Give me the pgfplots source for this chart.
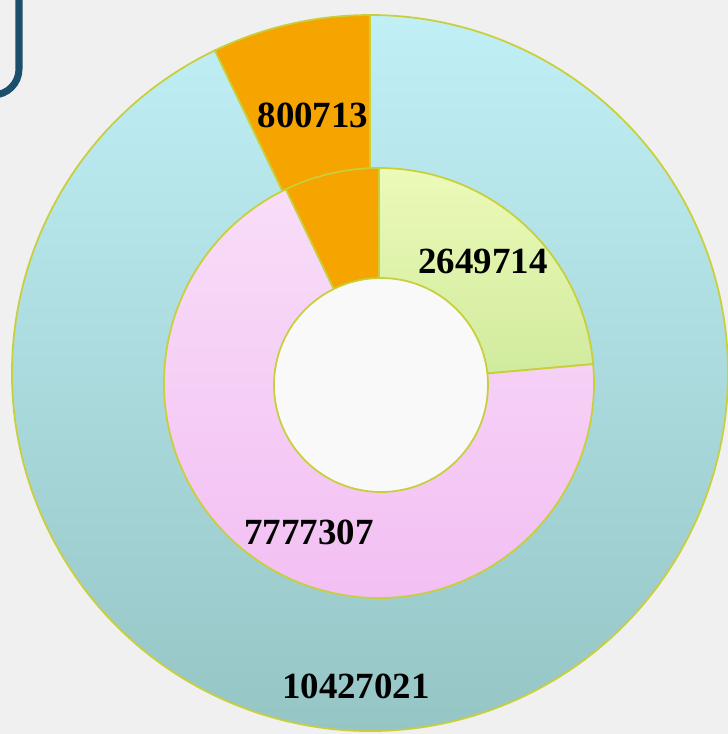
\documentclass[border=0pt]{standalone}
\usepackage{fontspec}
\setmainfont{Liberation Serif}
\usepackage{pgfplots}
\pgfplotsset{compat=1.18}

\definecolor{bgc}{HTML}{F0F0F0}
\definecolor{boxc}{HTML}{1B4F6B}
\definecolor{edgec}{HTML}{C9CF3A}
\definecolor{bluetop}{HTML}{C0F0F6}
\definecolor{bluebot}{HTML}{93C2C2}
\definecolor{orangec}{HTML}{F6A400}
\definecolor{greentop}{HTML}{ECFAB8}
\definecolor{greenbot}{HTML}{CFEA9C}
\definecolor{pinktop}{HTML}{F8DDF8}
\definecolor{pinkbot}{HTML}{F2BDF2}

% data
\def\outerA{800713}    % orange
\def\outerB{10427021}  % blue
\def\innerG{2649714}   % green
\def\innerP{7777307}   % pink
\def\innerO{800713}    % orange
\edef\total{\fpeval{\outerA+\outerB}}

% angles (clockwise from 12 o'clock for inner ring)
\edef\aOrange{\fpeval{90+360*\outerA/\total}}
\edef\aGreen{\fpeval{90-360*\innerG/\total}}
\edef\aPink{\fpeval{90-360*(\innerG+\innerP)/\total}}

\begin{document}
\begin{tikzpicture}
\begin{axis}[scale only axis, width=7.28cm, height=7.34cm,
  xmin=0, xmax=728, ymin=0, ymax=734, hide axis, clip=true]
 % background
 \fill[bgc] (axis cs:0,0) rectangle (axis cs:728,734);
 \draw[boxc, line width=0.07cm, rounded corners=0.26cm] (axis cs:-120,639) rectangle (axis cs:19,800);
 % outer ring: full wedges, inner ring drawn over
 \shade[shift={(axis cs:370,361)}, top color=bluetop, bottom color=bluebot, draw=edgec, line width=0.5pt]
   (0,0) -- (\aOrange:3.58cm) arc[start angle=\aOrange, end angle=450, radius=3.58cm] -- cycle;
 \fill[shift={(axis cs:370,361)}, orangec, draw=edgec, line width=0.5pt]
   (0,0) -- (90:3.58cm) arc[start angle=90, end angle=\aOrange, radius=3.58cm] -- cycle;
 % inner ring
 \shade[shift={(axis cs:379,351)}, top color=greentop, bottom color=greenbot, draw=edgec, line width=0.5pt]
   (0,0) -- (\aGreen:2.15cm) arc[start angle=\aGreen, end angle=90, radius=2.15cm] -- cycle;
 \shade[shift={(axis cs:379,351)}, top color=pinktop, bottom color=pinkbot, draw=edgec, line width=0.5pt]
   (0,0) -- (\aPink:2.15cm) arc[start angle=\aPink, end angle=\aGreen, radius=2.15cm] -- cycle;
 \fill[shift={(axis cs:379,351)}, orangec, draw=edgec, line width=0.5pt]
   (0,0) -- (-270:2.15cm) arc[start angle=-270, end angle=\aPink, radius=2.15cm] -- cycle;
 % hole
 \fill[shift={(axis cs:381,349)}, white!60!bgc, draw=edgec, line width=0.5pt] (0,0) circle[radius=1.07cm];
 % labels
 \begin{scope}[every node/.style={font=\bfseries\fontsize{10.5}{12}\selectfont, text=black}]
 \node at (axis cs:313,619) {800713};
 \node at (axis cs:483,473) {2649714};
 \node at (axis cs:309,202) {7777307};
 \node at (axis cs:356,48) {10427021};
 \end{scope}
\end{axis}
\end{tikzpicture}
\end{document}
